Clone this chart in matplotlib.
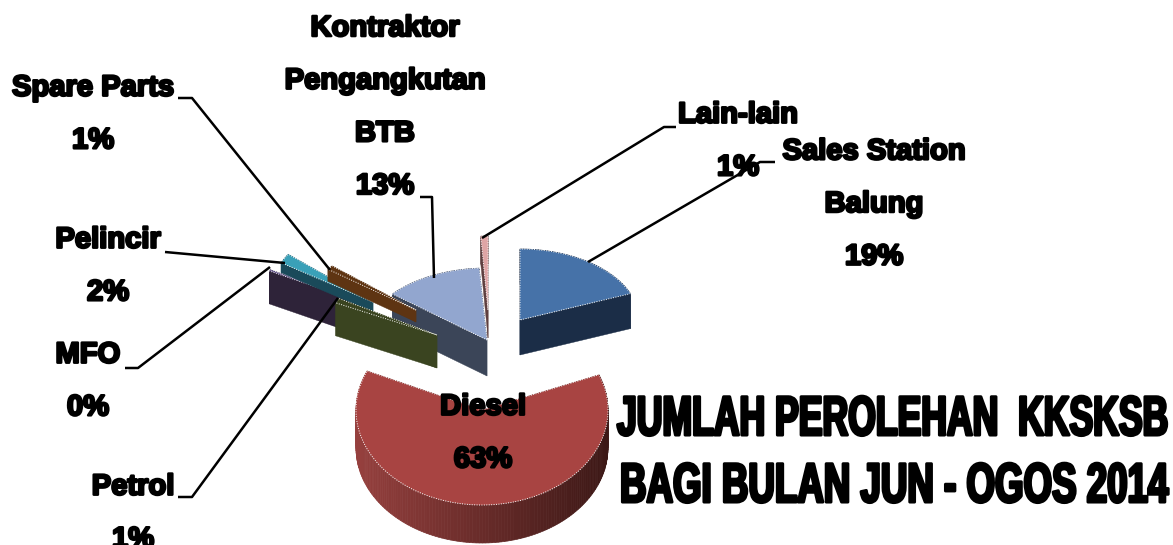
import numpy as np
import matplotlib
matplotlib.use("Agg")
import matplotlib.pyplot as plt
import matplotlib.patheffects as pe
from matplotlib.colors import to_rgb
from matplotlib.text import Text
from matplotlib.transforms import Affine2D, Bbox

# pie shares, clockwise from twelve o'clock
names = ["Sales Station\nBalung", "Diesel", "Petrol", "MFO", "Pelincir",
         "Spare Parts", "Kontraktor\nPengangkutan\nBTB", "Lain-lain"]
values = [19, 63, 1, 0.3, 2, 1, 13, 1]
top_colors = ["#4672a8", "#a84442", "#3a4420", "#5b4a85", "#3aa0b8",
              "#5e3412", "#92a6cf", "#dfa5a5"]
side_colors = ["#1b2d47", "#6b2c2a", "#3a4420", "#2e2339", "#1a4a5a",
               "#5e3412", "#3b4558", "#5e3f3f"]
title_lines = ["JUMLAH PEROLEHAN  KKSKSB", "BAGI BULAN JUN - OGOS 2014"]

# layout in image pixels: apex x, apex y, radius x, radius y, depth
slice_geom = [(520, 320, 119, 71, 35), (482, 410, 126, 95, 38),
              (437, 335, 111, 78, 33), (371, 306, 115, 75, 33),
              (373, 302, 105, 81, 10), (416, 310, 109, 69, 12),
              (487, 340, 123, 72, 36), (488, 310, 115, 74, 28)]
draw_order = [7, 6, 3, 4, 5, 2, 0, 1]
label_pos = [(874, 204), (483, 433), (133, 513), (88, 381), (108, 266),
             (93, 114), (385, 107), (738, 141)]
leaders = [[(588, 262), (760, 162), (775, 162)],
           [(178, 497), (192, 497), (338, 298)],
           [(125, 368), (138, 368), (270, 267)],
           [(165, 252), (285, 263)],
           [(178, 98), (192, 98), (330, 270)],
           [(420, 197), (432, 197), (434, 278)],
           [(482, 238), (664, 127), (676, 127)]]
title_pos = [(617, 435, 551), (620, 502, 548)]


class Squeeze(pe.AbstractPathEffect):
    # narrow the glyph outlines about x0, no condensed font is installed
    def __init__(self, x0, sx, width):
        super().__init__()
        self.x0, self.sx, self.width = x0, sx, width

    def draw_path(self, renderer, gc, tpath, affine, rgbFace=None):
        gc0 = renderer.new_gc()
        gc0.copy_properties(gc)
        gc0.set_linewidth(self.width)
        gc0.set_foreground("black")
        tr = affine + Affine2D().translate(-self.x0, 0).scale(self.sx, 1).translate(self.x0, 0)
        renderer.draw_path(gc0, tpath, tr, rgbFace)
        gc0.restore()


class NarrowText(Text):
    sx = 1.0

    def get_window_extent(self, renderer=None, dpi=None):
        bb = super().get_window_extent(renderer, dpi)
        return Bbox.from_extents(bb.x0, bb.y0, bb.x0 + bb.width * self.sx, bb.y1)


def point(geom, t, drop=0):
    cx, cy, rx, ry, depth = geom
    return cx + rx * np.sin(t), cy - ry * np.cos(t) + drop


fig = plt.figure(figsize=(11.73, 5.45), dpi=100)
ax = fig.add_axes([0, 0, 1, 1])
ax.set_xlim(0, 1173)
ax.set_ylim(545, 0)
ax.axis("off")

edges = np.cumsum([0] + values) / sum(values) * 2 * np.pi

for i in draw_order:
    g = slice_geom[i]
    d = g[4]
    t0, t1 = edges[i], edges[i + 1]
    ts = np.linspace(t0, t1, max(int((t1 - t0) * 40), 3))
    ax_, ay_ = g[0], g[1]
    z = 2 + draw_order.index(i) * 0.1
    # the two cut faces
    for t in (t0, t1):
        x, y = point(g, t)
        ax.fill([ax_, x, x, ax_], [ay_, y, y + d, ay_ + d], color=side_colors[i], lw=0.3, zorder=z)
    # outer wall, shaded left to right on the big slice
    base = np.array(to_rgb(side_colors[i]))
    for a, b in zip(ts[:-1], ts[1:]):
        x0, y0 = point(g, a)
        x1, y1 = point(g, b)
        if i == 1:
            f = (x0 - (g[0] - g[2])) / (2 * g[2])
            c = np.array(to_rgb("#96403e")) * (1 - f) + np.array(to_rgb("#3c1816")) * f
        else:
            c = base
        ax.fill([x0, x1, x1, x0], [y0, y1, y1 + d, y0 + d], color=c, lw=0.5, zorder=z)
    # top face
    xs, ys = point(g, ts)
    ax.fill(np.r_[ax_, xs], np.r_[ay_, ys], facecolor=top_colors[i], edgecolor="white",
            lw=0.7, ls=(0, (1, 1.5)), zorder=z + 0.05)

for pts in leaders:
    xs, ys = zip(*pts)
    ax.plot(xs, ys, color="black", lw=1.8, zorder=5, solid_capstyle="butt")

stroke = [pe.withStroke(linewidth=1.8, foreground="black")]
for name, v, (x, y) in zip(names, values, label_pos):
    ax.text(x, y, f"{name}\n{v:.0f}%", ha="center", va="center", family="Liberation Sans",
            weight="bold", fontsize=21, linespacing=2.12, color="black",
            path_effects=stroke, zorder=6)

renderer = fig.canvas.get_renderer()
for line, (x, y, width) in zip(title_lines, title_pos):
    t = NarrowText(x, y, line, ha="left", va="baseline", family="Liberation Sans", weight="bold",
                   fontsize=40, color="black", zorder=6)
    ax.add_artist(t)
    t.sx = width / t.get_window_extent(renderer).width
    t.set_path_effects([Squeeze(x, t.sx, 2.2)])

fig.savefig("out.png", dpi=100)
